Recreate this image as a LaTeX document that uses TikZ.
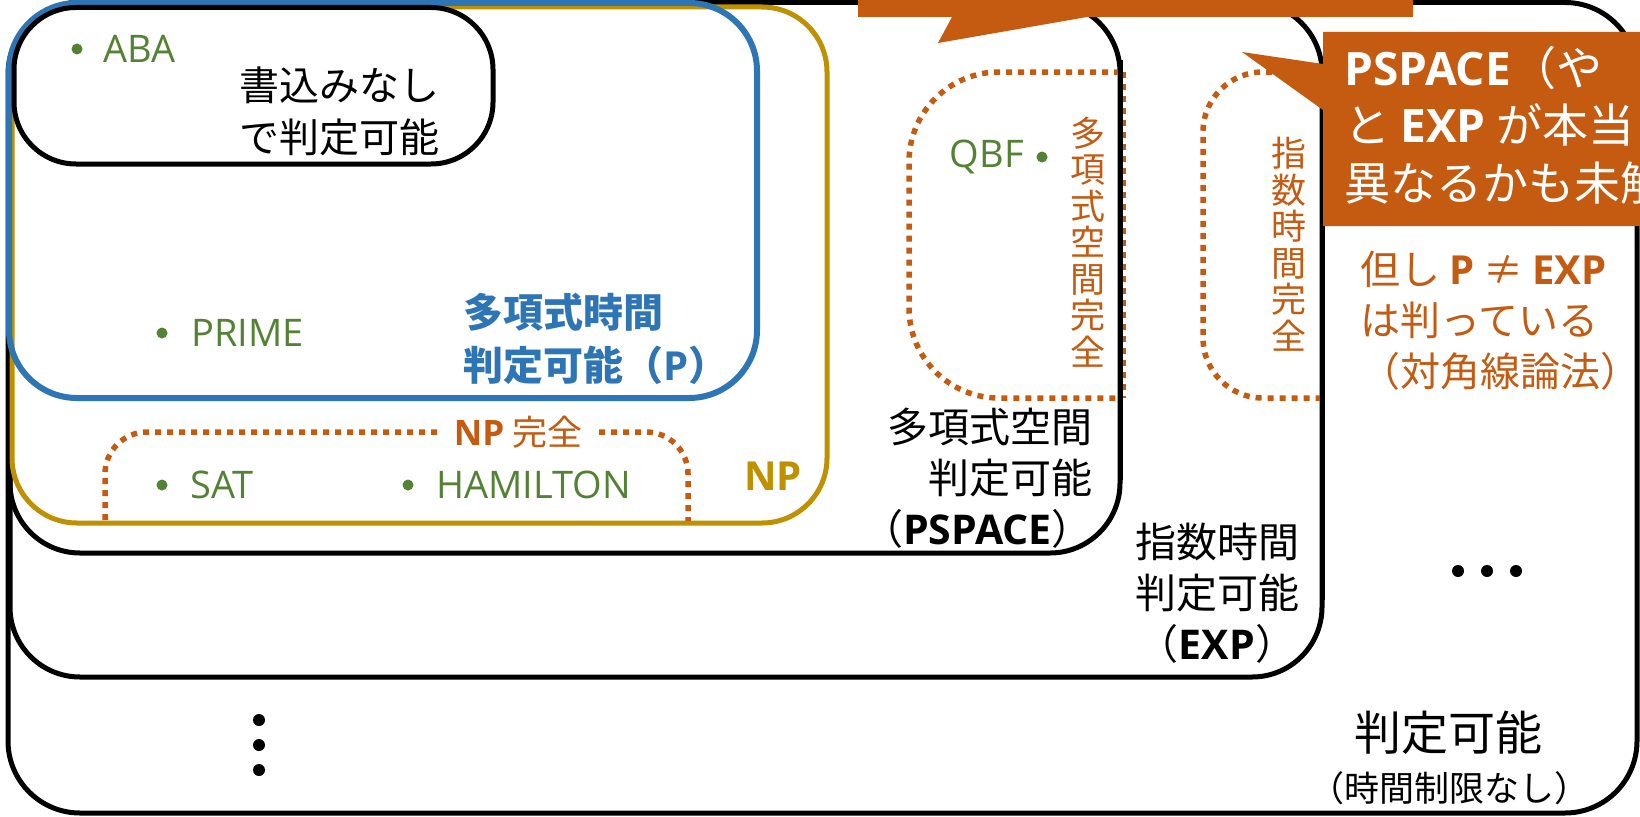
\documentclass[tikz,border=0pt]{standalone}
\usepackage{fontspec}
\setmainfont{Noto Sans CJK JP}
\newfontfamily\lat{Open Sans}
\definecolor{cblue}{RGB}{46,117,182}
\definecolor{cgold}{RGB}{191,144,0}
\definecolor{corng}{RGB}{197,90,17}
\definecolor{cgrn}{RGB}{84,130,53}
\newcommand{\bl}[1]{{\lat\bfseries #1}}
\tikzset{
  blackbox/.style={draw=black, line width=5pt, rounded corners=70pt},
  orangedots/.style={draw=corng, line width=5.5pt, dash pattern=on 6pt off 6pt},
  gdot/.style={circle, fill=cgrn, inner sep=0pt, minimum size=11pt},
  bdot/.style={circle, fill=black, inner sep=0pt, minimum size=12pt},
  lbl/.style={inner sep=0pt},
  glbl/.style={inner sep=0pt, text=cgrn, font=\fontsize{38}{46}\selectfont\lat, anchor=west},
  callout/.style={fill=corng, draw=none}
}
\begin{document}
\begin{tikzpicture}[x=1pt,y=-1pt]
\useasboundingbox (0,0) rectangle (1640,816);
\clip (0,0) rectangle (1640,816);
\fill[white] (0,0) rectangle (1640,816);
% nested classes
\draw[blackbox, rounded corners=72pt] (8,2.5) rectangle (1637,813);
\draw[blackbox] (10,2.5) rectangle (1322,677);
\draw[blackbox] (10,2.5) rectangle (1120,553);
% PSPACE-complete and EXP-complete
\draw[orangedots, rounded corners=90pt] (1120,72) -- (909,72) -- (909,398) -- (1120,398);
\draw[orangedots] (1123,72) -- (1123,398);
\draw[orangedots, rounded corners=60pt] (1320,72) -- (1203,72) -- (1203,398) -- (1320,398);
\draw[black, line width=5pt] (1120,60) -- (1120,480);
\draw[black, line width=5pt] (1322,60) -- (1322,600);
% NP
\draw[draw=cgold, line width=5pt, rounded corners=65pt] (12,7) rectangle (827,523);
% NP-complete
\draw[orangedots, rounded corners=42pt] (437,432) -- (105,432) -- (105,521);
\draw[orangedots, rounded corners=42pt] (599,432) -- (688,432) -- (688,521);
% P
\draw[draw=cblue, line width=6pt, rounded corners=68pt] (9,3) rectangle (757,398);
% no-write
\draw[blackbox, rounded corners=62pt] (14,7.5) rectangle (493,164);
% callouts
\fill[callout] (858,-5) -- (1413,-5) -- (1413,17) -- (1087,17) -- (938,43) -- (952,17) -- (858,17) -- cycle;
\fill[callout] (1323,32) -- (1700,32) -- (1700,226) -- (1323,226) -- (1323,110) -- (1242,52) -- (1323,64) -- cycle;
% members
\node[gdot] (dABA) at (77,49) {};
\node[glbl] (ABA) at (103,49) {ABA};
\node[gdot] (dPRIME) at (162,333) {};
\node[glbl] (PRIME) at (191,333) {PRIME};
\node[gdot] (dSAT) at (162,485) {};
\node[glbl] (SAT) at (190,485) {SAT};
\node[gdot] (dHAM) at (408,485) {};
\node[glbl] (HAM) at (436,485) {HAMILTON};
\node[gdot] (dQBF) at (1042,157) {};
\node[glbl, anchor=east] (QBF) at (1024,157) {QBF};
% labels
\node[lbl, anchor=east, align=right, font=\fontsize{40}{52}\selectfont] (lnw) at (440,111) {書込みなし\\で判定可能};
\node[lbl, anchor=west, align=left, text=cblue, font=\fontsize{40}{53}\selectfont\bfseries] (lP) at (463,339) {多項式時間\\判定可能（\bl{P}）};
\node[lbl, text=cgold, font=\fontsize{40}{52}\selectfont] (lNP) at (773,476) {\bl{NP}};
\node[lbl, text=corng, font=\fontsize{35}{44}\selectfont] (lNPC) at (518,432) {\bl{NP} 完全};
\node[lbl, text=corng, align=center, font=\fontsize{35}{36.5}\selectfont] (lPSC) at (1088,242) {多\\項\\式\\空\\間\\完\\全};
\node[lbl, text=corng, align=center, font=\fontsize{35}{36.5}\selectfont] (lEXC) at (1289,244) {指\\数\\時\\間\\完\\全};
\node[lbl, anchor=east, align=right, font=\fontsize{41}{51}\selectfont] (lPS) at (1093,478) {多項式空間\\判定可能\\（\bl{PSPACE}）};
\node[lbl, align=center, font=\fontsize{41}{51}\selectfont] (lEXP) at (1217,593) {指数時間\\判定可能\\（\bl{EXP}）};
\node[lbl, font=\fontsize{47}{56}\selectfont] (lDec) at (1448,733) {判定可能};
\node[lbl, font=\fontsize{35}{44}\selectfont] (lDec2) at (1449,788) {（時間制限なし）};
\node[lbl, anchor=west, align=left, text=corng, font=\fontsize{40}{51}\selectfont] (lDiag) at (1360,321) {但し \bl{P} ≠ \bl{EXP}\\は判っている\\（対角線論法）};
\node[lbl, anchor=west, align=left, text=white, font=\fontsize{46}{57.5}\selectfont] (lOpen) at (1344,125) {\bl{PSPACE}（や\\と \bl{EXP} が本当\\異なるかも未解};
% ellipses
\node[bdot] (h1) at (1458,571) {};
\node[bdot] (h2) at (1487,571) {};
\node[bdot] (h3) at (1516,571) {};
\node[bdot] (v1) at (259,720) {};
\node[bdot] (v2) at (259,745) {};
\node[bdot] (v3) at (259,770) {};
\end{tikzpicture}
\end{document}
